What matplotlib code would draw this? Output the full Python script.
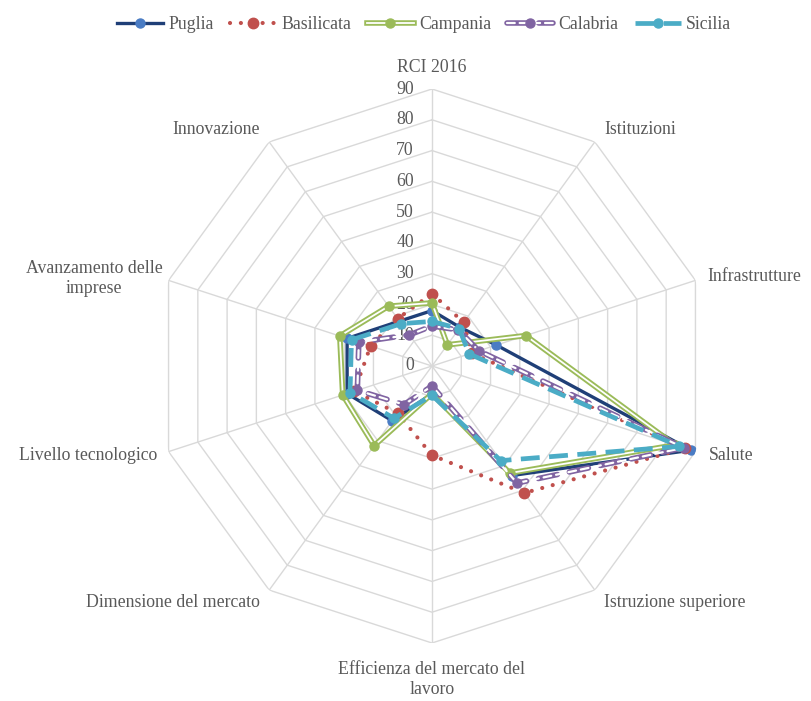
import numpy as np
import matplotlib.pyplot as plt
from matplotlib.lines import Line2D

# categories, clockwise from the top
assi = ["RCI 2016", "Istituzioni", "Infrastrutture", "Salute", "Istruzione superiore",
        "Efficienza del mercato del\nlavoro", "Dimensione del mercato", "Livello tecnologico",
        "Avanzamento delle\nimprese", "Innovazione"]

puglia = [18, 15.5, 22, 88.5, 44, 9, 22, 29, 29, 18]
basilicata = [23.5, 17.5, 13.5, 86.5, 51, 29, 19, 26.5, 21, 19]
campania = [20.5, 8.5, 32, 83, 43, 9, 32, 30.5, 31.5, 24]
calabria = [13, 14.5, 16, 86, 47, 6.5, 15.5, 25.5, 25, 12.5]
sicilia = [14.5, 15, 12.7, 84.5, 38, 9.5, 21, 28, 27.5, 17]

livelli = [0, 10, 20, 30, 40, 50, 60, 70, 80, 90]

plt.rcParams['font.family'] = ['Liberation Serif', 'DejaVu Serif']
grigio = '#595959'
fs = 12.8

fig = plt.figure(figsize=(8.11, 7.01), dpi=100)
cx, cy, R = 432 / 811, 1 - 366 / 701, 277
ax = fig.add_axes([cx - R / 811, cy - R / 701, 2 * R / 811, 2 * R / 701], projection='polar')
ax.set_theta_offset(np.pi / 2)
ax.set_theta_direction(-1)
ax.set_ylim(0, 90)
ax.set_axis_off()

n = len(assi)
th = np.deg2rad(np.arange(n) * 360 / n)
thc = np.append(th, th[0])

# decagon grid
for lv in livelli[1:]:
    ax.plot(thc, [lv] * (n + 1), color='#D9D9D9', lw=1, zorder=1)
for t in th:
    ax.plot([t, t], [0, 90], color='#D9D9D9', lw=1, zorder=1)

for lv in livelli:
    ax.annotate(str(lv), (0, lv), xytext=(-13, 0), textcoords='offset points',
                ha='right', va='center', fontsize=fs, color=grigio)

# axis labels
pos = [(97, 'center', 'center'), (95, 'left', 'center'), (94, 'left', 'center'),
       (94.5, 'left', 'center'), (95, 'left', 'center'), (96, 'center', 'top'),
       (95, 'right', 'center'), (94, 'right', 'center'), (92, 'right', 'center'),
       (95, 'right', 'center')]
for t, lab, (r, ha, va) in zip(th, assi, pos):
    ax.text(t, r, lab, ha=ha, va=va, fontsize=fs, color=grigio, multialignment='center')


def chiudi(v):
    return np.append(v, v[0])


handles = []

# Puglia
ax.plot(thc, chiudi(puglia), color='#1F3F77', lw=2.4, zorder=3)
ax.plot(th, puglia, ls='none', marker='o', ms=6.5, color='#4A7CC4', zorder=3)
handles.append((Line2D([], [], color='#1F3F77', lw=2.4),
                Line2D([], [], ls='none', marker='o', ms=6.5, color='#4A7CC4')))

# Basilicata
ax.plot(thc, chiudi(basilicata), color='#C0504D', lw=3, ls=(0, (0.01, 2.6)),
        dash_capstyle='round', zorder=4)
ax.plot(th, basilicata, ls='none', marker='o', ms=7.5, color='#C0504D', zorder=4)
handles.append((Line2D([], [], color='#C0504D', lw=3, ls=(0, (0.01, 2.6)), dash_capstyle='round'),
                Line2D([], [], ls='none', marker='o', ms=7.5, color='#C0504D')))

# Campania
ax.plot(thc, chiudi(campania), color='#9BBB59', lw=4, zorder=5)
ax.plot(thc, chiudi(campania), color='white', lw=1.3, zorder=5)
ax.plot(th, campania, ls='none', marker='o', ms=6.5, color='#9BBB59', zorder=5)
handles.append((Line2D([], [], color='#9BBB59', lw=4),
                Line2D([], [], color='white', lw=1.3),
                Line2D([], [], ls='none', marker='o', ms=6.5, color='#9BBB59')))

# Calabria
dash = (0, (3.5, 2.2))
ax.plot(thc, chiudi(calabria), color='#8064A2', lw=4, ls=dash, dash_capstyle='round', zorder=6)
ax.plot(thc, chiudi(calabria), color='white', lw=1.6, ls=dash, dash_capstyle='round', zorder=6)
ax.plot(th, calabria, ls='none', marker='o', ms=6.5, color='#8064A2', zorder=6)
handles.append((Line2D([], [], color='#8064A2', lw=4, ls=dash, dash_capstyle='round'),
                Line2D([], [], color='white', lw=1.6, ls=dash, dash_capstyle='round'),
                Line2D([], [], ls='none', marker='o', ms=6.5, color='#8064A2')))

# Sicilia
ax.plot(thc, chiudi(sicilia), color='#4BACC6', lw=3.4, ls=(0, (4, 2)), zorder=7)
ax.plot(th, sicilia, ls='none', marker='o', ms=6.5, color='#4BACC6', zorder=7)
handles.append((Line2D([], [], color='#4BACC6', lw=3.4, ls=(0, (4, 2))),
                Line2D([], [], ls='none', marker='o', ms=6.5, color='#4BACC6')))

fig.legend(handles, ["Puglia", "Basilicata", "Campania", "Calabria", "Sicilia"],
           loc='upper center', bbox_to_anchor=(0.523, 1.0), ncol=5, frameon=False,
           fontsize=fs, handlelength=2.6, columnspacing=0.9, handletextpad=0.3,
           labelcolor=grigio)

fig.savefig('out.png', dpi=100)
